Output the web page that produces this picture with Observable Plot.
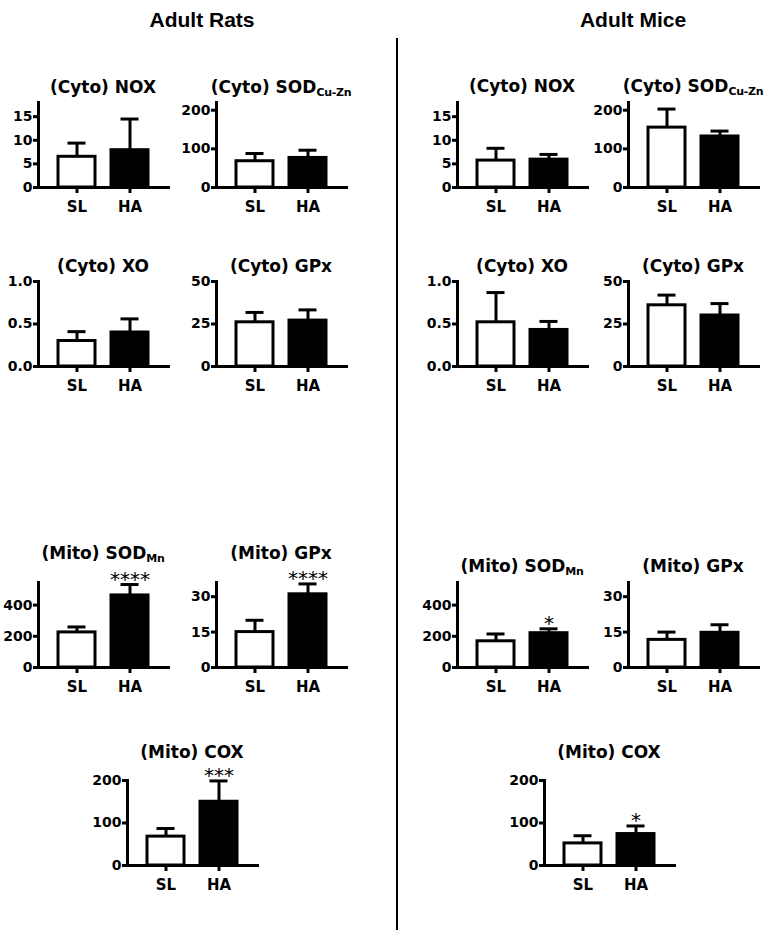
<!DOCTYPE html>
<html>
<head>
<meta charset="utf-8">
<script src="https://cdn.jsdelivr.net/npm/d3@7"></script>
<script src="https://cdn.jsdelivr.net/npm/@observablehq/plot@0.6"></script>
<style>
  body { margin: 0; background: white; }
  #chart { position: relative; width: 774px; height: 930px; background: white; overflow: hidden; }
  .ptitle { position: absolute; width: 220px; text-align: center; font: bold 17px "DejaVu Sans", sans-serif; line-height: 17px; white-space: nowrap; z-index: 2; color: #000; }
  .ptitle .sub { font-size: 11px; position: relative; top: 3px; letter-spacing: -0.3px; }
  .header { position: absolute; width: 200px; text-align: center; font: bold 21px "Liberation Sans Narrow", "Liberation Sans", Arial, sans-serif; line-height: 21px; z-index: 2; color: #000; }
  .panel { position: absolute; z-index: 1; }
  .divider { position: absolute; left: 396px; top: 38px; width: 2px; height: 892px; background: #000; }
</style>
</head>
<body>
<div id="chart"></div>
<script>
// ---- data ----
const groups = ["SL", "HA"];
const titleMain = ["(Cyto) NOX", "(Cyto) SOD", "(Cyto) XO", "(Cyto) GPx", "(Mito) SOD", "(Mito) GPx", "(Mito) COX"];
const titleSub = ["", "Cu-Zn", "", "", "Mn", "", ""];
const yMax = [18, 220, 1, 50, 545, 36, 200];
const yTicks = [[0, 5, 10, 15], [0, 100, 200], [0, 0.5, 1.0], [0, 25, 50], [0, 200, 400], [0, 15, 30], [0, 100, 200]];
const yDecimals = [0, 0, 1, 0, 0, 0, 0];

const ratsMean = [[6.5, 7.9], [68, 76.5], [0.30, 0.40], [26, 27], [225, 462], [15, 31], [68, 150]];
const ratsUpper = [[9.4, 14.5], [88, 96.5], [0.41, 0.56], [31.8, 33.3], [260, 532], [20, 35.4], [87, 199]];
const ratsStars = ["", "", "", "", "****", "****", "***"];

const miceMean = [[5.7, 5.9], [155, 132], [0.52, 0.43], [36, 30], [168, 220], [11.7, 14.7], [52, 74]];
const miceUpper = [[8.3, 7.0], [203, 146], [0.87, 0.53], [42, 37], [215, 248], [15, 18.1], [70, 93]];
const miceStars = ["", "", "", "", "*", "", "*"];

const headers = ["Adult Rats", "Adult Mice"];

// ---- layout ----
const ML = 45, MR = 8, MT = 20, MB = 30, PW = 130, PH = 85;
const colAxis = { rats: [38, 216, 127], mice: [457, 628, 544] };
const rowBase = [187, 366, 667, 865];
const titleBase = { rats: [93, 272, 559, 758], mice: [92, 272, 572, 758] };
const panelRow = [0, 0, 1, 1, 2, 2, 3];
const panelCol = [0, 1, 0, 1, 0, 1, 2];
const headerCenter = [202, 633];
const LW = 3;

const chart = document.getElementById("chart");

function makePanel(i, mean, upper, stars) {
  const rows = groups.map((g, j) => ({ group: g, mean: mean[i][j], err: upper[i][j], star: j === 1 ? stars[i] : "" }));
  const fmt = d3.format(yDecimals[i] ? ".1f" : "d");
  return Plot.plot({
    width: ML + PW + MR, height: MT + PH + MB,
    marginLeft: ML, marginRight: MR, marginTop: MT, marginBottom: MB,
    style: { background: "transparent", fontFamily: "DejaVu Sans", fontWeight: "bold", fontSize: "14px", color: "black", overflow: "visible" },
    x: { domain: groups, paddingInner: 0.296, paddingOuter: 0.352, label: null },
    y: { domain: [0, yMax[i]], label: null },
    color: { domain: groups, range: ["white", "black"] },
    marks: [
      Plot.ruleX(rows, { x: "group", y1: "mean", y2: "err", stroke: "black", strokeWidth: LW }),
      Plot.tickY(rows, { x: "group", y: "err", stroke: "black", strokeWidth: LW, insetLeft: 9.5, insetRight: 9.5 }),
      Plot.barY(rows, { x: "group", y: "mean", fill: "group", stroke: "black", strokeWidth: LW }),
      Plot.text(rows.filter(d => d.star), { x: "group", y: "err", text: "star", dy: -5, fontSize: 20, fontWeight: "normal", fill: "black" }),
      Plot.axisY({ ticks: yTicks[i], tickFormat: fmt, tickSize: 5, tickPadding: 1, strokeWidth: LW, fill: "black", label: null }),
      Plot.axisX({ tickSize: 6, tickPadding: 8, fontSize: 15, strokeWidth: LW, fill: "black", label: null }),
      Plot.frame({ anchor: "left", strokeWidth: LW }),
      Plot.frame({ anchor: "bottom", strokeWidth: LW })
    ]
  });
}

function addTitle(i, species) {
  const ax = colAxis[species][panelCol[i]];
  const tb = titleBase[species][panelRow[i]];
  const d = document.createElement("div");
  d.className = "ptitle";
  d.style.left = (ax + PW / 2 - 110) + "px";
  d.style.top = (tb - 14.4) + "px";
  d.textContent = titleMain[i];
  if (titleSub[i]) {
    const s = document.createElement("span");
    s.className = "sub";
    s.textContent = titleSub[i];
    d.appendChild(s);
  }
  chart.appendChild(d);
}

["rats", "mice"].forEach((species, k) => {
  const mean = species === "rats" ? ratsMean : miceMean;
  const upper = species === "rats" ? ratsUpper : miceUpper;
  const stars = species === "rats" ? ratsStars : miceStars;
  titleMain.forEach((_, i) => {
    const svg = makePanel(i, mean, upper, stars);
    const wrap = document.createElement("div");
    wrap.className = "panel";
    wrap.style.left = (colAxis[species][panelCol[i]] - ML) + "px";
    wrap.style.top = (rowBase[panelRow[i]] - PH - MT) + "px";
    wrap.appendChild(svg);
    chart.appendChild(wrap);
    addTitle(i, species);
  });
  const h = document.createElement("div");
  h.className = "header";
  h.style.left = (headerCenter[k] - 100) + "px";
  h.style.top = "9px";
  h.textContent = headers[k];
  chart.appendChild(h);
});

const div = document.createElement("div");
div.className = "divider";
chart.appendChild(div);
</script>
</body>
</html>
